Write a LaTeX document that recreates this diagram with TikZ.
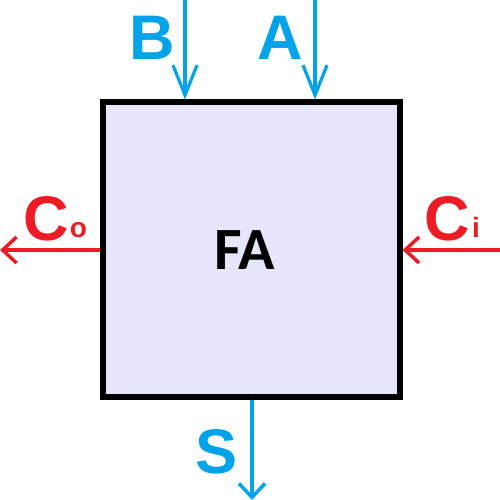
\documentclass[tikz,border=0pt]{standalone}
\usepackage{fontspec}
\setmainfont{Liberation Sans}
\newfontfamily\carl{Carlito}
\usetikzlibrary{arrows.meta}
\definecolor{fablue}{HTML}{00A2E8}
\definecolor{fared}{HTML}{ED1C24}
\definecolor{falav}{HTML}{E6E6FA}
\tikzset{
  longhead/.style={line width=3.2pt,-{Straight Barb[length=30pt,width=24pt,line width=3.2pt]}},
  shorthead/.style={line width=3.5pt,-{Straight Barb[length=14pt,width=26pt,line width=3.5pt]}},
  biglabel/.style={inner sep=0pt,anchor=base,font=\fontsize{63}{63}\selectfont\bfseries},
  sublabel/.style={inner sep=0pt,anchor=base,font=\fontsize{28}{28}\selectfont\bfseries},
}
\begin{document}
\begin{tikzpicture}[x=1pt,y=-1pt]
\useasboundingbox (0,0) rectangle (500,500);
\node[draw=black,fill=falav,line width=6pt,minimum width=297pt,minimum height=294.5pt,inner sep=0pt] (box) at (251,249.75) {};
\node[inner sep=0pt,anchor=base,font=\carl\fontsize{60}{60}\selectfont\bfseries] (fa) at (245,269) {FA};
% inputs A, B
\coordinate (bTop) at (185,0);
\coordinate (aTop) at (315,0);
\draw[fablue,longhead] (bTop) -- (bTop |- box.north);
\draw[fablue,longhead] (aTop) -- (aTop |- box.north);
\node[biglabel,text=fablue] (lb) at (152.5,60) {B};
\node[biglabel,text=fablue] (la) at (280,60) {A};
% carry out
\coordinate (coEnd) at (0,250);
\draw[fared,shorthead] (box.west |- coEnd) -- (coEnd);
\node[biglabel,text=fared] (lco) at (46,240) {C};
\node[sublabel,text=fared] (lcos) at (78.5,237) {o};
% carry in
\coordinate (ciStart) at (500,250);
\draw[fared,shorthead] (ciStart) -- (box.east |- ciStart);
\node[biglabel,text=fared] (lci) at (447.5,240) {C};
\node[sublabel,text=fared] (lcis) at (476,237) {i};
% sum
\coordinate (sEnd) at (252,500);
\draw[fablue,shorthead] (sEnd |- box.south) -- (sEnd);
\node[biglabel,text=fablue] (ls) at (216.5,473) {S};
\end{tikzpicture}
\end{document}
